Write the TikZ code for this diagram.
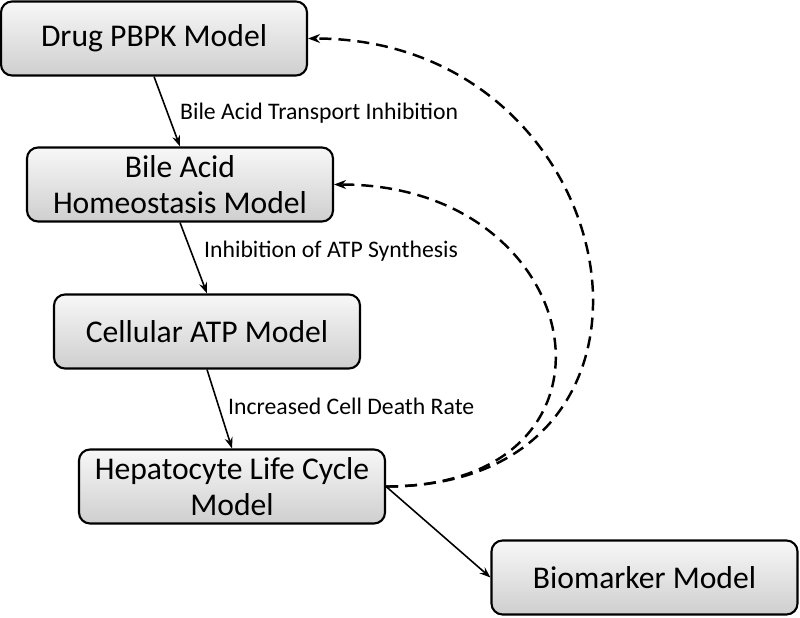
\documentclass[tikz,border=0pt]{standalone}
\usepackage{fontspec}
\setmainfont{Carlito}
\usetikzlibrary{arrows.meta}

\begin{document}
\begin{tikzpicture}[
	model/.style={draw,line width=1.2pt,rounded corners=0.22cm,top color=gray!6,bottom color=gray!38,
		minimum width=6.12cm,minimum height=1.48cm,align=center,font=\fontsize{18}{20.5}\selectfont},
	link/.style={line width=0.9pt,-{Stealth[length=2.2mm,width=1.6mm]}},
	feed/.style={line width=1.4pt,dash pattern=on 2.4mm off 1.4mm,-{Stealth[length=2.4mm,width=1.8mm]}},
	lbl/.style={anchor=west,font=\fontsize{13.5}{15}\selectfont}]
	\useasboundingbox (0,0) rectangle(16,12.34);
	\node (drug) at(3.08,11.57)[model]{Drug PBPK Model};
	\node (bile) at(3.60,8.65)[model]{Bile Acid\\Homeostasis Model};
	\node (atp) at(4.14,5.71)[model]{Cellular ATP Model};
	\node (hep) at(4.64,2.61)[model]{Hepatocyte Life Cycle\\Model};
	\node (bio) at(12.89,0.79)[model]{Biomarker Model};
	\draw [link](drug.south)--(bile.north);
	\draw [link](bile.south)--(atp.north);
	\draw [link](atp.south)--(hep.north);
	\draw [link](hep.east)--(bio.west);
	\node (l1) at(3.48,10.08)[lbl]{Bile Acid Transport Inhibition};
	\node (l2) at(3.96,7.32)[lbl]{Inhibition of ATP Synthesis};
	\node (l3) at(4.44,4.22)[lbl]{Increased Cell Death Rate};
	\draw [feed](hep.east) .. controls +(6.45,0) and +(6.45,0) .. (drug.east);
	\draw [feed](hep.east) .. controls +(5.15,0) and +(5.15,0) .. (bile.east);
\end{tikzpicture}
\end{document}
